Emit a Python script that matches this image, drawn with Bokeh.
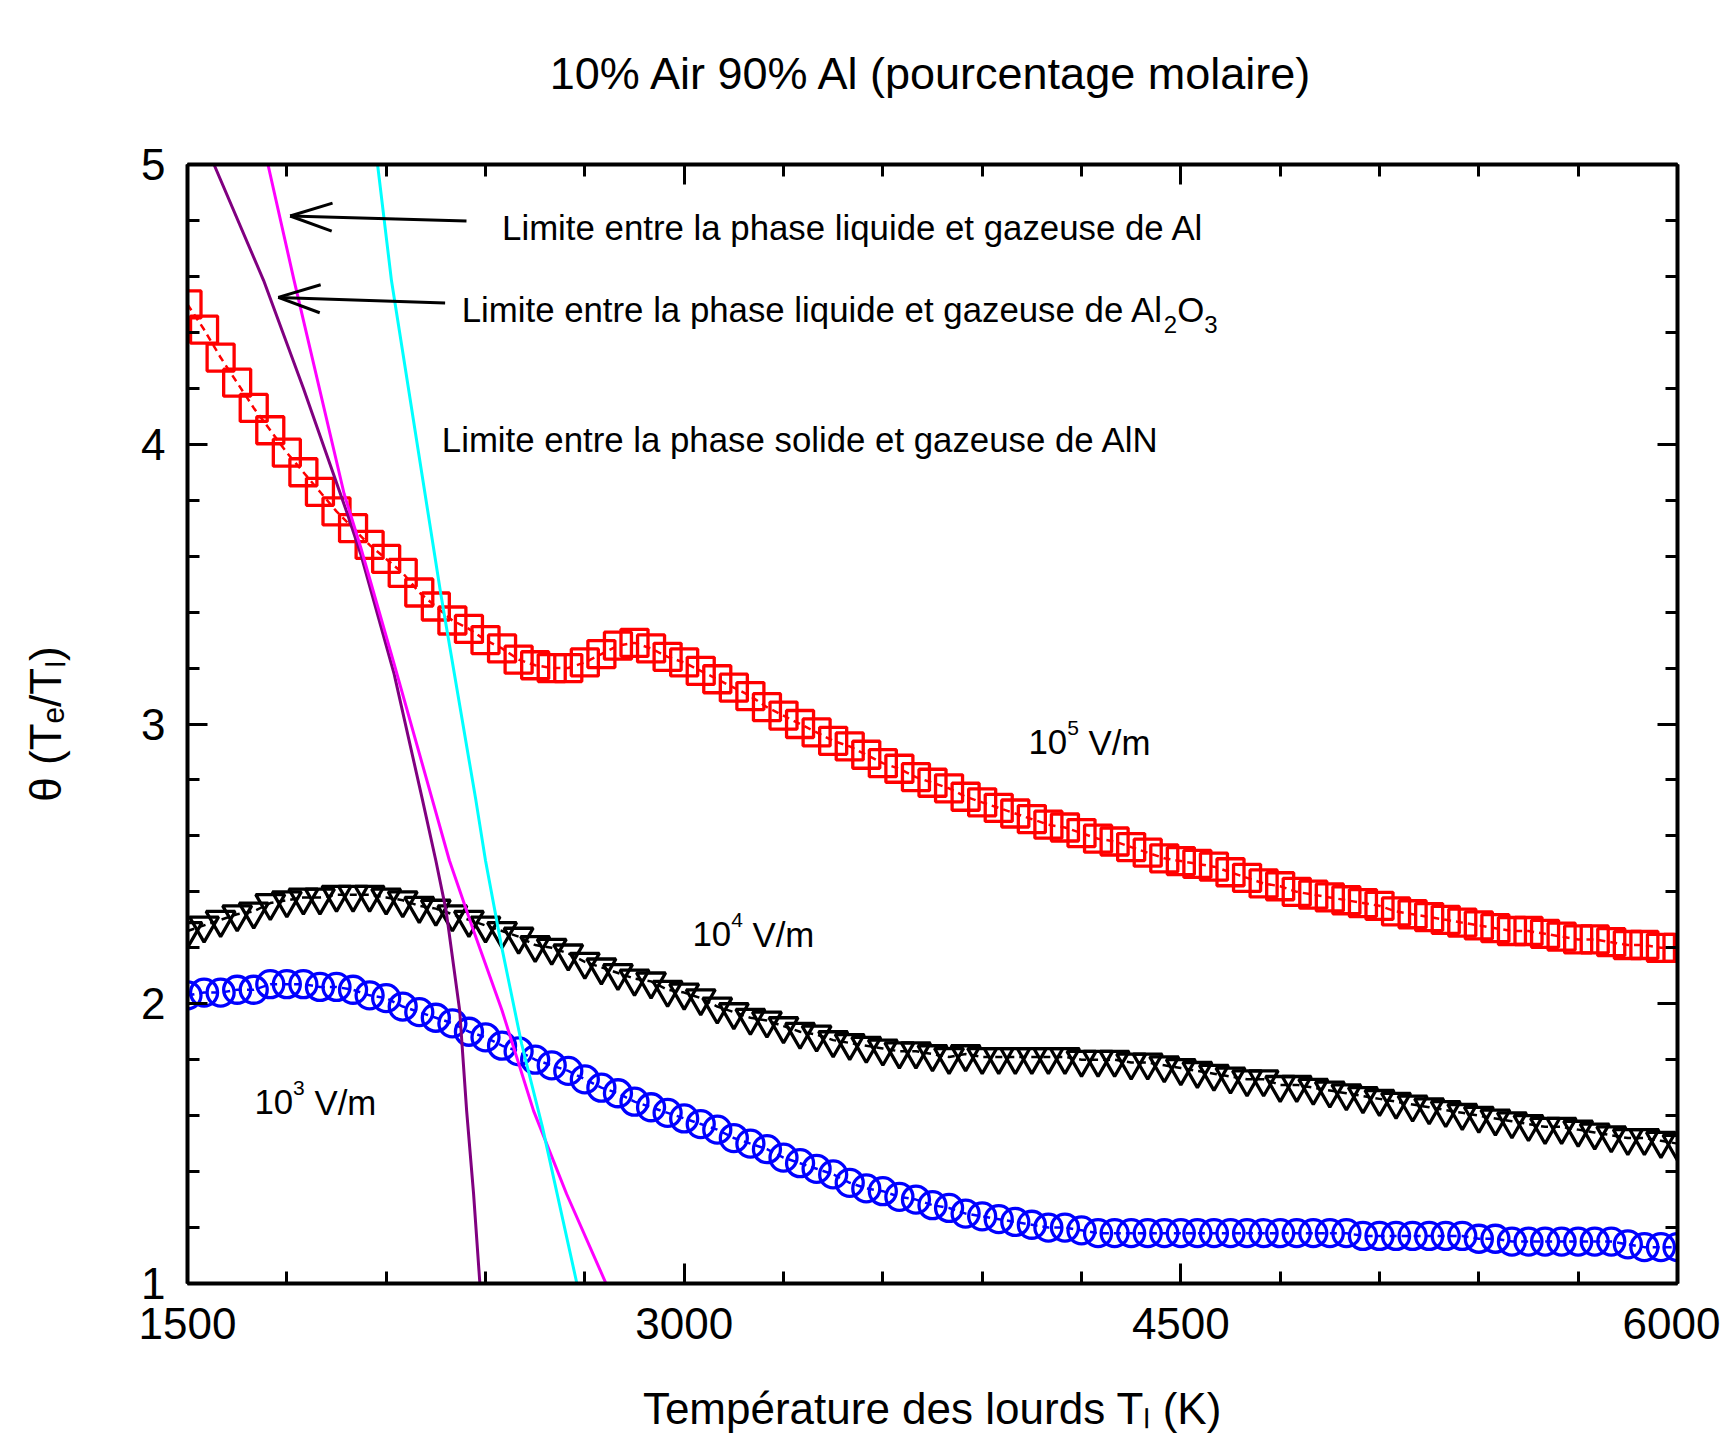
import math
from bokeh.plotting import figure
from bokeh.models import Range1d, LinearAxis, FixedTicker, Label, CustomLabelingPolicy
from bokeh.embed import file_html
from bokeh.resources import INLINE

# ---------------- data ----------------
T_heavy = list(range(1500, 6001, 50))  # K

theta_1e5 = [4.50, 4.41, 4.31, 4.22, 4.13, 4.05, 3.97, 3.90, 3.83, 3.76,
             3.70, 3.64, 3.59, 3.54, 3.47, 3.42, 3.37, 3.34, 3.30, 3.27,
             3.23, 3.21, 3.20, 3.20, 3.22, 3.25, 3.28, 3.29, 3.27, 3.24,
             3.22, 3.19, 3.16, 3.13, 3.10, 3.06, 3.03, 3.00, 2.97, 2.94,
             2.92, 2.89, 2.86, 2.84, 2.81, 2.79, 2.77, 2.74, 2.72, 2.70,
             2.68, 2.66, 2.64, 2.63, 2.61, 2.59, 2.58, 2.56, 2.54, 2.52,
             2.51, 2.50, 2.49, 2.47, 2.45, 2.43, 2.42, 2.40, 2.39, 2.38,
             2.37, 2.36, 2.35, 2.33, 2.32, 2.31, 2.30, 2.29, 2.28, 2.27,
             2.26, 2.26, 2.25, 2.24, 2.23, 2.23, 2.22, 2.21, 2.21, 2.20,
             2.20]

theta_1e4 = [2.26, 2.28, 2.30, 2.32, 2.33, 2.36, 2.37, 2.38, 2.38, 2.39,
             2.39, 2.39, 2.38, 2.37, 2.35, 2.34, 2.32, 2.30, 2.28, 2.26,
             2.24, 2.21, 2.20, 2.18, 2.15, 2.13, 2.11, 2.09, 2.08, 2.05,
             2.04, 2.02, 1.99, 1.97, 1.95, 1.94, 1.92, 1.90, 1.89, 1.87,
             1.86, 1.85, 1.84, 1.83, 1.83, 1.82, 1.81, 1.82, 1.81, 1.81,
             1.81, 1.81, 1.81, 1.81, 1.80, 1.80, 1.80, 1.79, 1.79, 1.78,
             1.77, 1.76, 1.75, 1.74, 1.73, 1.73, 1.71, 1.71, 1.70, 1.69,
             1.68, 1.67, 1.66, 1.65, 1.64, 1.63, 1.62, 1.61, 1.60, 1.59,
             1.58, 1.57, 1.56, 1.56, 1.55, 1.54, 1.53, 1.52, 1.52, 1.51,
             1.50]

theta_1e3 = [2.03, 2.04, 2.04, 2.05, 2.05, 2.07, 2.07, 2.07, 2.06, 2.06,
             2.05, 2.03, 2.02, 1.99, 1.97, 1.95, 1.93, 1.90, 1.88, 1.85,
             1.83, 1.80, 1.78, 1.76, 1.73, 1.70, 1.68, 1.65, 1.63, 1.61,
             1.59, 1.57, 1.55, 1.52, 1.50, 1.48, 1.45, 1.43, 1.41, 1.39,
             1.36, 1.34, 1.33, 1.31, 1.30, 1.28, 1.27, 1.25, 1.24, 1.23,
             1.22, 1.21, 1.20, 1.20, 1.19, 1.18, 1.18, 1.18, 1.18, 1.18,
             1.18, 1.18, 1.18, 1.18, 1.18, 1.18, 1.18, 1.18, 1.18, 1.18,
             1.18, 1.17, 1.17, 1.17, 1.17, 1.17, 1.17, 1.17, 1.16, 1.16,
             1.15, 1.15, 1.15, 1.15, 1.15, 1.15, 1.15, 1.14, 1.13, 1.13,
             1.13]

# phase boundaries
al_T = [1743, 1822, 1973, 2023, 2124, 2240, 2291, 2360, 2450, 2545, 2645, 2764]
al_theta = [5.0, 4.585, 3.823, 3.632, 3.215, 2.727, 2.512, 2.274, 1.976, 1.618, 1.32, 1.0]
al2o3_T = [1580, 1730, 1850, 1983, 2023, 2124, 2210, 2250, 2281, 2322, 2343, 2364, 2383]
al2o3_theta = [5.0, 4.585, 4.20, 3.751, 3.608, 3.179, 2.727, 2.512, 2.333, 1.976, 1.618, 1.32, 1.0]
aln_T = [2074, 2116, 2265, 2371, 2400, 2447, 2509, 2572, 2676]
aln_theta = [5.0, 4.585, 3.465, 2.727, 2.512, 2.214, 1.857, 1.559, 1.0]

# ticks
x_major = [1500, 3000, 4500, 6000]
x_minor = list(range(1500, 6001, 300))
y_major = [1, 2, 3, 4, 5]
y_minor = [1 + 0.2 * k for k in range(21)]

# texts
title_text = "10% Air 90% Al (pourcentage molaire)"
xlabel_text = "Température des lourds T\u2097 (K)"
ylabel_text = "θ (T\u2091/T\u2097)"
field_exps = ["5", "4", "3"]
field_pos = [(4040, 2.887), (3025, 2.201), (1702, 1.600)]
ann_al = "Limite entre la phase liquide et gazeuse de Al"
ann_al2o3 = ["Limite entre la phase liquide et gazeuse de Al", "2", "O", "3"]
ann_aln = "Limite entre la phase solide et gazeuse de AlN"
ann_pos = [(2450, 4.728), (2328, 4.435), (2268, 3.970)]
arrow_tail = [(2342.6, 4.798), (2278.0, 4.505)]
arrow_tip = [(1810.0, 4.816), (1774.0, 4.525)]

# ---------------- layout ----------------
FW, FH = 1490, 1119
X0, X1, Y0, Y1 = 1500, 6000, 1, 5
DX = (X1 - X0) / FW
DY = (Y1 - Y0) / FH
FONT = "Liberation Sans"
BASE_K = 0.38  # empirical baseline correction (fraction of font size)

W = {' ': 278, 'A': 667, 'K': 667, 'L': 556, 'N': 722, 'O': 778, 'T': 611, 'V': 667,
     '/': 278, '(': 333, ')': 333, '%': 889, 'a': 556, 'c': 500, 'd': 556, 'e': 556,
     'é': 556, 'g': 556, 'h': 556, 'i': 222, 'l': 222, 'm': 833, 'n': 556, 'o': 556,
     'p': 556, 'q': 556, 'r': 333, 's': 500, 't': 278, 'u': 556, 'z': 500, 'θ': 556}
for d in "0123456789":
    W[d] = 556


def tw(s, size):
    return sum(W.get(c, 556) for c in s) * size / 1000.0


p = figure(x_range=Range1d(X0, X1), y_range=Range1d(Y0, Y1),
           frame_width=FW, frame_height=FH,
           min_border_left=187, min_border_right=43, min_border_top=164, min_border_bottom=154,
           x_axis_type=None, y_axis_type=None,
           output_backend="svg", toolbar_location=None)
p.outline_line_color = None
p.background_fill_color = "white"
p.border_fill_color = "white"

p.title.text = title_text
p.title.align = "center"
p.title.text_font = FONT
p.title.text_font_size = "45px"
p.title.text_font_style = "normal"
p.title.text_color = "black"
p.title.standoff = 64

no_labels = CustomLabelingPolicy(code="for (const i of indices) { indices.unset(i) } return indices")


def style_axis(ax, ticks, minor, show_labels, standoff):
    ax.ticker = FixedTicker(ticks=ticks, minor_ticks=minor)
    ax.axis_line_width = 4
    ax.axis_line_color = "black"
    ax.major_tick_in = 20
    ax.major_tick_out = 0
    ax.minor_tick_in = 12
    ax.minor_tick_out = 0
    ax.major_tick_line_width = 3
    ax.minor_tick_line_width = 3
    ax.major_label_text_font = FONT
    ax.major_label_text_color = "black"
    ax.major_label_text_font_size = "44px"
    ax.major_label_standoff = standoff
    ax.axis_label_text_font = FONT
    ax.axis_label_text_font_size = "44px"
    ax.axis_label_text_font_style = "normal"
    ax.axis_label_text_color = "black"
    if not show_labels:
        ax.major_label_policy = no_labels


xb = LinearAxis(axis_label=xlabel_text, axis_label_standoff=42)
style_axis(xb, x_major, x_minor, True, 24)
p.add_layout(xb, "below")
xt = LinearAxis()
style_axis(xt, x_major, x_minor, False, 0)
p.add_layout(xt, "above")
yl = LinearAxis(axis_label=ylabel_text, axis_label_standoff=68)
style_axis(yl, y_major, y_minor, True, 22)
p.add_layout(yl, "left")
yr = LinearAxis()
style_axis(yr, y_major, y_minor, False, 0)
p.add_layout(yr, "right")

# ---------------- series ----------------
series = [(theta_1e5, "#FF0000", "square", 27),
          (theta_1e4, "#000000", "inverted_triangle", 29),
          (theta_1e3, "#0000FF", "circle", 27)]
for vals, col, mk, sz in series:
    p.line(T_heavy, vals, line_color=col, line_width=2.5, line_dash="7 5")
    p.scatter(T_heavy, vals, marker=mk, size=sz, fill_color=None,
              line_color=col, line_width=3.3)

p.line(al2o3_T, al2o3_theta, line_color="#800080", line_width=3)
p.line(al_T, al_theta, line_color="#FF00FF", line_width=3)
p.line(aln_T, aln_theta, line_color="#00FFFF", line_width=3)

# ---------------- arrows ----------------
seg_x0, seg_y0, seg_x1, seg_y1 = [], [], [], []
for (tx, ty), (hx, hy) in zip(arrow_tail, arrow_tip):
    seg_x0.append(tx); seg_y0.append(ty); seg_x1.append(hx); seg_y1.append(hy)
    ux, uy = (tx - hx) / DX, (ty - hy) / DY
    n = math.hypot(ux, uy)
    ux, uy = ux / n, uy / n
    vx, vy = -uy, ux
    for s in (1, -1):
        ax_ = hx + (42 * ux + s * 14 * vx) * DX
        ay_ = hy + (42 * uy + s * 14 * vy) * DY
        seg_x0.append(hx); seg_y0.append(hy); seg_x1.append(ax_); seg_y1.append(ay_)
p.segment(seg_x0, seg_y0, seg_x1, seg_y1, line_color="black", line_width=3)


# ---------------- texts inside the frame ----------------
def lab(x, y, text, size, align="left"):
    p.add_layout(Label(x=x, y=y + BASE_K * size * DY, text=text, text_font=FONT,
                       text_font_size=f"{size}px", text_color="black",
                       text_align=align, text_baseline="alphabetic"))


AS = 34.8
for e, (fx, fy) in zip(field_exps, field_pos):
    lab(fx, fy, "10", AS)
    o = tw("10", AS)
    lab(fx + o * DX, fy + 20 * DY, e, 21)
    o += tw(e, 21) + tw(" ", AS)
    lab(fx + o * DX, fy, "V/m", AS)

lab(ann_pos[0][0], ann_pos[0][1], ann_al, AS)
ax0, ay0 = ann_pos[1]
o = 0.0
for part, sub in zip(ann_al2o3, [False, True, False, True]):
    sz = 24 if sub else AS
    lab(ax0 + o * DX, ay0 - (11 * DY if sub else 0), part, sz)
    o += tw(part, sz)
lab(ann_pos[2][0], ann_pos[2][1], ann_aln, AS)

open("out.html", "w").write(file_html(p, INLINE))
